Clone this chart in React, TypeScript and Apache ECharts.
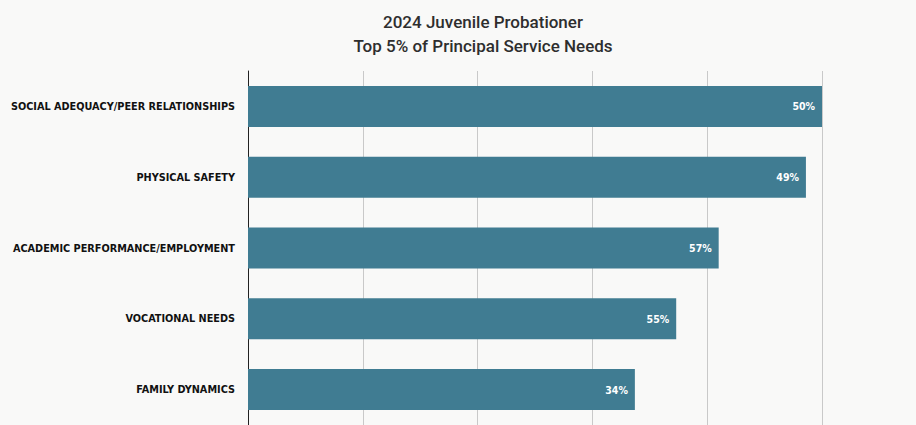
import React, { useEffect, useRef } from "react";
import * as echarts from "echarts";

const categories = [
  "SOCIAL ADEQUACY/PEER RELATIONSHIPS",
  "PHYSICAL SAFETY",
  "ACADEMIC PERFORMANCE/EMPLOYMENT",
  "VOCATIONAL NEEDS",
  "FAMILY DYNAMICS",
];
// bar lengths as drawn (axis units)
const values = [50, 48.6, 41, 37.3, 33.7];
// data label texts as printed on the bars
const labelTexts = ["50%", "49%", "57%", "55%", "34%"];
const titleLines = ["2024 Juvenile Probationer", "Top 5% of Principal Service Needs"];

export default function App() {
  const ref = useRef<HTMLDivElement>(null);
  useEffect(() => {
    if (!ref.current) return;
    const chart = echarts.init(ref.current, undefined, { renderer: "svg" });
    chart.setOption({
      animation: false,
      backgroundColor: "#f9f9f8",
      title: {
        text: titleLines.join("\n"),
        left: 478,
        top: 5,
        textAlign: "center",
        textStyle: {
          fontFamily: "Roboto",
          fontWeight: 500,
          fontSize: 17,
          lineHeight: 24,
          color: "#2e2e2e",
        },
      },
      grid: { left: 248, right: 94, top: 71, bottom: 0, containLabel: false },
      xAxis: {
        type: "value",
        min: 0,
        max: 50,
        interval: 10,
        axisLabel: { show: false },
        axisLine: { show: false },
        axisTick: { show: false },
        splitLine: { show: true, lineStyle: { color: "#c9c9c9", width: 1 } },
      },
      yAxis: {
        type: "category",
        data: categories,
        inverse: true,
        axisLine: { show: true, lineStyle: { color: "#222", width: 1 } },
        axisTick: { show: false },
        axisLabel: {
          margin: 13,
          fontFamily: "DejaVu Sans Condensed",
          fontWeight: "bold",
          fontSize: 10.8,
          color: "#111",
        },
      },
      series: [
        {
          type: "bar",
          data: values,
          barWidth: 41,
          itemStyle: { color: "#407c92" },
          label: {
            show: true,
            position: "insideRight",
            offset: [-2, 0],
            formatter: (p: any) => labelTexts[p.dataIndex],
            color: "#ffffff",
            fontFamily: "DejaVu Sans Condensed",
            fontWeight: "bold",
            fontSize: 10.5,
          },
        },
      ],
    });
    return () => chart.dispose();
  }, []);
  return (
    <div
      ref={ref}
      style={{ position: "fixed", left: 0, top: 0, width: 916, height: 425 }}
    />
  );
}
